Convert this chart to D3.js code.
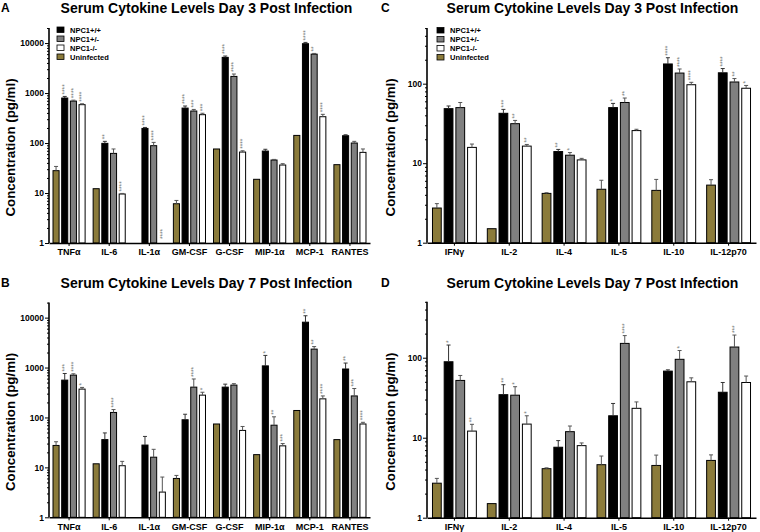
<!DOCTYPE html>
<html>
<head>
<meta charset="utf-8">
<script src="https://cdn.jsdelivr.net/npm/d3@7"></script>
<style>
  body { margin: 0; background: #fff; }
  svg { display: block; font-family: Arial, "Liberation Sans", sans-serif; }
</style>
</head>
<body>
<script>
// cytokine groups and genotypes
const groupsAB = ["TNFα", "IL-6", "IL-1α", "GM-CSF", "G-CSF", "MIP-1α", "MCP-1", "RANTES"];
const groupsCD = ["IFNγ", "IL-2", "IL-4", "IL-5", "IL-10", "IL-12p70"];
const series = ["Uninfected", "NPC1+/+", "NPC1+/-", "NPC1-/-"];
const legendOrder = ["NPC1+/+", "NPC1+/-", "NPC1-/-", "Uninfected"];

// rows follow `series`: mean, upper end of error bar, significance marks
const aMean = [
  [28, 12.2, null, 6.1, 76, 18.8, 142, 36.9],
  [795, 98.5, 196, 500, 5170, 69, 9700, 140],
  [690, 62, 88.5, 437, 2150, 45.7, 6000, 100],
  [585, 9.55, null, 369, 66, 36.3, 336, 65]
];
const aHigh = [
  [34, null, null, 7.1, null, null, null, null],
  [855, 108, 205, 550, 5500, 75, 10300, 146],
  [720, 76, 103, 470, 2400, 47, 6200, 108],
  [610, 9.8, null, 394, 70, 38.6, 375, 76]
];
const aStars = [
  ["", "", "", "", "", "", "", ""],
  ["****", "**", "****", "****", "****", "", "****", ""],
  ["****", "", "****", "***", "****", "", "**", ""],
  ["****", "****", "****", "***", "****", "", "****", ""]
];

const bMean = [
  [27.5, 11.8, null, 6, 74, 18, 138, 36],
  [560, 36, 28, 90, 405, 1080, 8100, 935],
  [705, 126, 16, 405, 445, 70, 2340, 270],
  [370, 10.8, 3.2, 280, 55, 27, 236, 74]
];
const bHigh = [
  [32.6, null, null, 6.9, null, null, null, null],
  [760, 49, 41.7, 116, 465, 1750, 10900, 1230],
  [750, 144, 23, 590, 475, 103, 2630, 380],
  [400, 13.2, 6.4, 320, 66, 30, 270, 80]
];
const bStars = [
  ["", "", "", "", "", "", "", ""],
  ["***", "", "", "", "", "*", "**", "**"],
  ["****", "****", "", "****", "", "**", "**", "***"],
  ["*", "", "", "*", "", "***", "****", "****"]
];

const cMean = [
  [2.73, 1.5, 4.17, 4.7, 4.55, 5.3],
  [48.5, 42.4, 14, 50, 177, 137],
  [50, 31.4, 12.6, 58, 136, 105],
  [15.8, 16.4, 11, 25.7, 97, 87.6]
];
const cHigh = [
  [3.1, null, 4.25, 6.1, 6.25, 6.2],
  [52.4, 47.5, 14.9, 56.5, 212, 155],
  [58, 34.5, 13.6, 66, 153, 116],
  [17.4, 17.2, 11.5, 26.7, 104, 95]
];
const cStars = [
  ["", "", "", "", "", ""],
  ["", "***", "**", "*", "****", "****"],
  ["", "**", "*", "**", "****", "**"],
  ["", "**", "", "", "****", "*"]
];

const dMean = [
  [2.7, 1.5, 4.1, 4.6, 4.5, 5.2],
  [89, 34.5, 7.6, 18.8, 68, 37],
  [52, 34, 11.9, 151, 95.5, 136],
  [12.1, 14.8, 7.96, 23.3, 50, 49]
];
const dHigh = [
  [3.1, null, 4.2, 5.9, 6.06, 6.1],
  [144, 46, 9.2, 26.8, 70.5, 49],
  [60, 43.4, 14, 189, 123, 192],
  [14.7, 18.8, 8.6, 28, 56, 59]
];
const dStars = [
  ["", "", "", "", "", ""],
  ["*", "**", "", "", "", ""],
  ["", "*", "", "****", "*", "***"],
  ["**", "*", "", "", "", ""]
];

const fills = {"Uninfected": "#8b7b3b", "NPC1+/+": "#000", "NPC1+/-": "#808080", "NPC1-/-": "#fff"};

const svg = d3.select("body").append("svg")
    .attr("width", 760)
    .attr("height", 532);

function panel(o) {
  const g = svg.append("g");

  const x = d3.scaleBand()
      .domain(o.groups)
      .range([o.x0, o.x1])
      .paddingInner(0.2)
      .paddingOuter(0.1);
  const xs = d3.scaleBand()
      .domain(series)
      .range([0, x.bandwidth()])
      .paddingInner(o.inner)
      .paddingOuter(0);
  const y = d3.scaleLog()
      .domain([1, o.max])
      .range([o.y0, o.y1]);

  // letter + title
  g.append("text")
      .attr("x", o.letterX).attr("y", o.titleY - 1)
      .attr("font-size", 12).attr("font-weight", "bold")
      .text(o.letter);
  g.append("text")
      .attr("x", (o.x0 + o.x1) / 2 + o.titleDx).attr("y", o.titleY)
      .attr("text-anchor", "middle")
      .attr("font-size", 14).attr("font-weight", "bold")
      .text(o.title);

  // y label
  g.append("text")
      .attr("transform", `translate(${o.labelX},${(o.y0 + o.y1) / 2 + 12}) rotate(-90)`)
      .attr("text-anchor", "middle")
      .attr("font-size", 13.3)
      .attr("font-weight", "bold")
      .text("Concentration (pg/ml)");

  // bars
  series.forEach((s, si) => {
    const cells = o.groups.map((grp, gi) => ({
      grp, s, v: o.mean[si][gi], hi: o.high[si][gi], star: o.stars[si][gi]
    }));
    const bx = d => x(d.grp) + xs(d.s);

    g.append("g").selectAll("rect")
      .data(cells.filter(d => d.v != null))
      .join("rect")
        .attr("x", bx)
        .attr("y", d => y(d.v))
        .attr("width", xs.bandwidth())
        .attr("height", d => y(1) - y(d.v))
        .attr("fill", fills[s])
        .attr("stroke", "#000")
        .attr("stroke-width", 1);

    const eb = g.append("g")
        .attr("stroke", s === "NPC1+/+" ? "#333" : "#555")
        .attr("stroke-width", 1)
      .selectAll("g")
      .data(cells.filter(d => d.v != null && d.hi != null && d.hi > d.v))
      .join("g");
    eb.append("line")
        .attr("x1", d => bx(d) + xs.bandwidth() / 2)
        .attr("x2", d => bx(d) + xs.bandwidth() / 2)
        .attr("y1", d => y(d.v))
        .attr("y2", d => y(d.hi));
    eb.append("line")
        .attr("x1", d => bx(d) + xs.bandwidth() / 2 - 2)
        .attr("x2", d => bx(d) + xs.bandwidth() / 2 + 2)
        .attr("y1", d => y(d.hi))
        .attr("y2", d => y(d.hi));

    g.append("g").selectAll("text")
      .data(cells.filter(d => d.star))
      .join("text")
        .attr("transform", d => {
          const top = d.v == null ? y(1) - 4 : y(Math.max(d.hi || d.v, d.v)) - 2;
          return `translate(${bx(d) + xs.bandwidth() / 2 + 2.2},${top}) rotate(-90)`;
        })
        .attr("font-size", 6.5)
        .attr("fill", "#777")
        .text(d => d.star);
  });

  // y axis
  const yAxis = g.append("g")
      .attr("transform", `translate(${o.x0},0)`)
      .call(d3.axisLeft(y)
        .tickSize(2)
        .tickFormat(d => {
          const e = Math.log10(d);
          return Math.abs(e - Math.round(e)) < 1e-9 ? String(Math.round(d)) : "";
        }));
  yAxis.select(".domain").attr("stroke-width", 1.6).attr("d", `M0,${o.y0}V${o.y1}`);
  yAxis.selectAll(".tick").each(function(d) {
    const major = Math.abs(Math.log10(d) - Math.round(Math.log10(d))) < 1e-9;
    d3.select(this).select("line").attr("x2", major ? -4 : -2).attr("stroke-width", 1);
    d3.select(this).select("text").attr("x", -5);
  });
  yAxis.selectAll("text")
      .attr("font-size", 8.5).attr("font-weight", "bold").attr("fill", "#000")
      .attr("font-family", "Arial, 'Liberation Sans', sans-serif");

  // x axis
  const xAxis = g.append("g")
      .attr("transform", `translate(0,${o.y0})`)
      .call(d3.axisBottom(x).tickSize(3).tickSizeOuter(0));
  xAxis.select(".domain").attr("stroke-width", 1.6);
  xAxis.selectAll("text")
      .attr("y", 6)
      .attr("font-size", 9).attr("font-weight", "bold").attr("fill", "#000")
      .attr("font-family", "Arial, 'Liberation Sans', sans-serif");

  // legend
  if (o.legend) {
    const lg = g.append("g").attr("transform", `translate(${o.legend[0]},${o.legend[1]})`);
    legendOrder.forEach((s, i) => {
      lg.append("rect")
          .attr("x", 0).attr("y", i * 9)
          .attr("width", 7).attr("height", 5.5)
          .attr("fill", fills[s]).attr("stroke", "#000").attr("stroke-width", 0.8);
      lg.append("text")
          .attr("x", 13).attr("y", i * 9 + 5.5)
          .attr("font-size", 7.5).attr("font-weight", "bold")
          .text(s);
    });
  }
}

panel({letter: "A", title: "Serum Cytokine Levels Day 3 Post Infection", groups: groupsAB,
  mean: aMean, high: aHigh, stars: aStars, x0: 49, x1: 370, y0: 243, y1: 28, max: 20000,
  inner: 0.3, titleY: 13, titleDx: -3, letterX: 1, labelX: 15, legend: [57, 27]});
panel({letter: "B", title: "Serum Cytokine Levels Day 7 Post Infection", groups: groupsAB,
  mean: bMean, high: bHigh, stars: bStars, x0: 49, x1: 370, y0: 517.3, y1: 302.6, max: 20000,
  inner: 0.3, titleY: 288, titleDx: -3, letterX: 1, labelX: 15});
panel({letter: "C", title: "Serum Cytokine Levels Day 3 Post Infection", groups: groupsCD,
  mean: cMean, high: cHigh, stars: cStars, x0: 427, x1: 756, y0: 242.7, y1: 28.1, max: 500,
  inner: 0.25, titleY: 13, titleDx: 1, letterX: 381, labelX: 395, legend: [437, 27.5]});
panel({letter: "D", title: "Serum Cytokine Levels Day 7 Post Infection", groups: groupsCD,
  mean: dMean, high: dHigh, stars: dStars, x0: 427, x1: 756, y0: 517.7, y1: 301.8, max: 500,
  inner: 0.25, titleY: 288, titleDx: 1, letterX: 381, labelX: 395});
</script>
</body>
</html>
